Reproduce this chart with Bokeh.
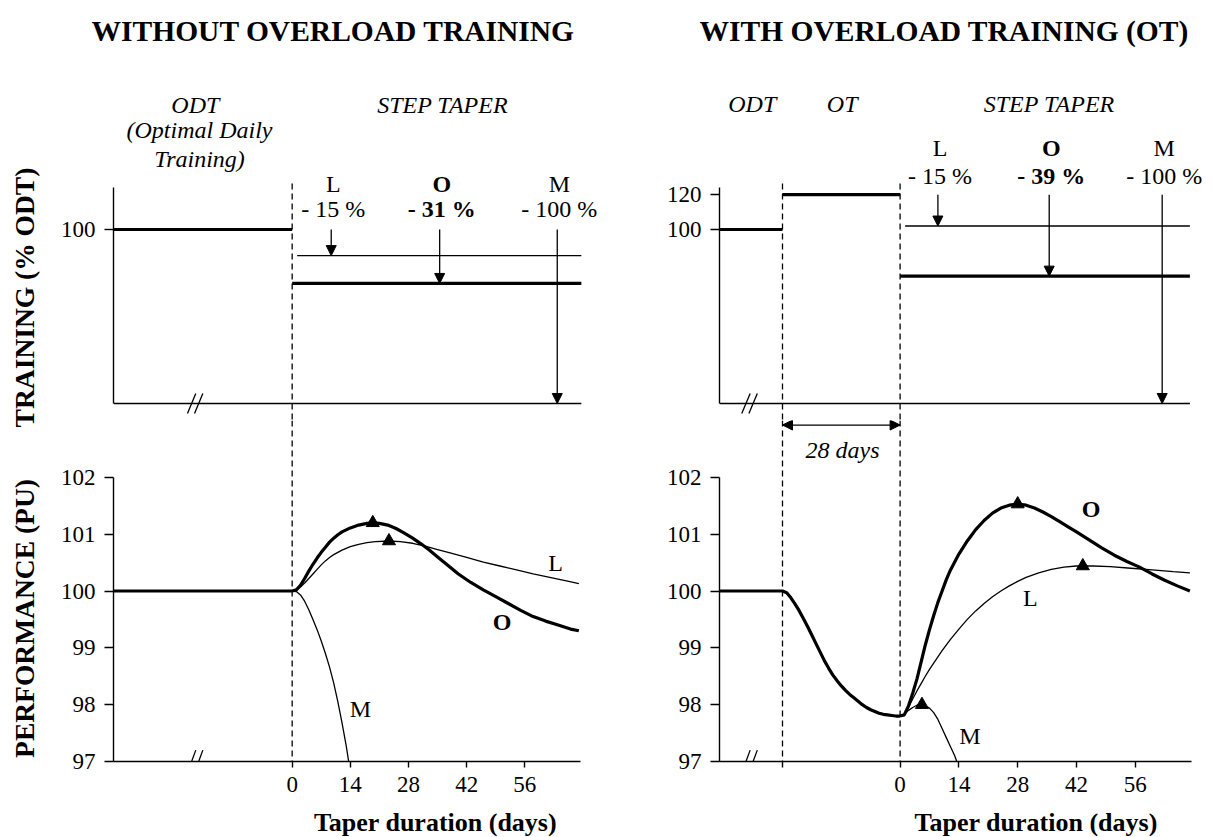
import math

from bokeh.plotting import figure
from bokeh.layouts import row, column
from bokeh.models import Range1d, Label, Arrow, NormalHead, FixedTicker
from bokeh.embed import file_html
from bokeh.resources import INLINE

SERIF = "Liberation Serif"

# ---------------- training load (% of optimal daily training, ODT) ----------------
odt_level = 100
ot_level = 120
ot_days = 28
taper_names = ["L", "O", "M"]
cut_without_ot = [15, 31, 100]          # step-taper reduction, % of pre-taper load
cut_with_ot = [15, 39, 100]
arrow_day_without_ot = [9.4, 35.5, 63.8]
arrow_day_with_ot = [9.0, 35.5, 62.4]
training_ticks_without_ot = [100]
training_ticks_with_ot = [100, 120]

# ---------------- performance (PU), taper without overload training ----------------
wo_O_day = [0, 1, 2, 3, 4, 5, 6, 7, 8, 9, 10, 11, 12, 14, 16, 18, 19.4, 21, 23, 25, 27, 29,
            31, 33, 35, 37, 40, 43, 46, 49, 52, 55, 58, 61, 64, 67, 69]
wo_O_perf = [100.0, 100.02, 100.1, 100.22, 100.35, 100.47, 100.58, 100.68, 100.77, 100.86,
             100.93, 100.99, 101.04, 101.11, 101.16, 101.19, 101.2, 101.19, 101.16, 101.1,
             101.02, 100.93, 100.83, 100.72, 100.6, 100.48, 100.3, 100.15, 100.02, 99.9,
             99.78, 99.66, 99.55, 99.47, 99.4, 99.33, 99.3]
wo_L_day = [0, 1, 2, 3, 4, 5, 6, 7, 8, 9, 10, 12, 14, 16, 18, 20, 23.3, 26, 29, 32, 35, 38,
            42, 46, 50, 54, 58, 62, 66, 69]
wo_L_perf = [100.0, 100.02, 100.07, 100.14, 100.22, 100.3, 100.38, 100.46, 100.53, 100.59,
             100.64, 100.72, 100.78, 100.82, 100.85, 100.87, 100.88, 100.87, 100.84, 100.79,
             100.73, 100.67, 100.59, 100.51, 100.44, 100.37, 100.3, 100.24, 100.18, 100.13]
wo_M_day = [0, 1, 2, 3, 4, 5, 6, 7, 8, 9, 10, 11, 12, 13, 13.6]
wo_M_perf = [100.0, 99.99, 99.93, 99.82, 99.67, 99.5, 99.32, 99.12, 98.9, 98.66, 98.38,
             98.05, 97.68, 97.28, 97.0]
wo_peak_day = [19.4, 23.3]
wo_peak_perf = [101.2, 100.88]

# ---------------- performance (PU), taper after overload training ----------------
ot_day = [-28, -27, -26, -25, -24, -23, -22, -21, -20, -19, -18, -17, -16, -15, -14, -13,
          -12, -11, -10, -9, -8, -7, -6, -5, -4, -3, -2, -1, 0]
ot_perf = [100.0, 99.97, 99.88, 99.77, 99.65, 99.51, 99.37, 99.22, 99.07, 98.92, 98.77,
           98.64, 98.52, 98.42, 98.33, 98.25, 98.18, 98.12, 98.06, 98.0, 97.95, 97.91, 97.88,
           97.85, 97.83, 97.82, 97.81, 97.8, 97.8]
w_O_day = [0, 1, 2, 3, 4, 5, 6, 7, 8, 9, 10, 11, 12, 14, 16, 18, 20, 22, 24, 26, 28, 30, 32,
           34, 36, 38, 40, 42, 45, 48, 51, 54, 57, 60, 63, 66, 69]
w_O_perf = [97.8, 97.82, 97.98, 98.2, 98.45, 98.75, 99.05, 99.32, 99.57, 99.8, 100.0, 100.2,
            100.37, 100.65, 100.88, 101.08, 101.24, 101.37, 101.46, 101.51, 101.53, 101.51,
            101.46, 101.39, 101.31, 101.22, 101.13, 101.04, 100.9, 100.76, 100.63, 100.52,
            100.42, 100.3, 100.19, 100.09, 100.0]
w_L_day = [0, 1, 2, 3, 4, 5, 6, 7, 8, 9, 10, 12, 14, 16, 18, 20, 22, 24, 26, 28, 30, 33, 36,
           39, 42, 46, 50, 55, 60, 65, 69]
w_L_perf = [97.8, 97.83, 97.95, 98.1, 98.24, 98.37, 98.5, 98.62, 98.73, 98.84, 98.95, 99.15,
            99.33, 99.5, 99.65, 99.78, 99.9, 100.0, 100.09, 100.17, 100.24, 100.32, 100.38,
            100.42, 100.44, 100.44, 100.43, 100.4, 100.37, 100.34, 100.32]
w_M_day = [0, 1, 2, 3, 4, 5.2, 6, 7, 8, 9, 10, 11, 12, 13, 13.5]
w_M_perf = [97.8, 97.83, 97.9, 97.95, 97.99, 98.0, 97.98, 97.94, 97.86, 97.74, 97.58, 97.42,
            97.26, 97.1, 97.0]
w_peak_day = [28, 43.5, 5.2]
w_peak_perf = [101.53, 100.44, 98.0]

perf_ticks = [97, 98, 99, 100, 101, 102]
taper_ticks_without_ot = [0, 14, 28, 42, 56]
taper_ticks_with_ot = [-28, 0, 14, 28, 42, 56]

# ---------------- geometry ----------------
AXIS_START = -43.0
TAPER_END_WO = 69.6
TAPER_END_W = 69.0
PX_PER_DAY_WO = 4.155
PX_PER_DAY_W = 4.2
FIG_W = 606
GUTTER_W = 45
HEAD_H = 60
TOP_H = 360
BOT_H = 383
FOOT_H = 34
BORDER_L = 113
BORDER_B = 42
THICK = 3.2
THIN = 1.3
AXIS_W = 1.4
DASH = "6 4"
TOP_Y = Range1d(-9.77, 197.13)
INNER_W = FIG_W - GUTTER_W
INNER_BORDER = BORDER_L - GUTTER_W


def base_fig(x_range, y_range, height, bottom_border, with_x_axis):
    p = figure(width=INNER_W, height=height, x_range=x_range, y_range=y_range,
               output_backend="svg", toolbar_location=None,
               x_axis_location="below" if with_x_axis else None,
               min_border_left=INNER_BORDER, min_border_right=0,
               min_border_top=0, min_border_bottom=bottom_border)
    p.grid.visible = False
    p.outline_line_color = None
    p.background_fill_color = "white"
    p.border_fill_color = "white"
    for ax in p.axis:
        ax.axis_line_color = "black"
        ax.axis_line_width = AXIS_W
        ax.major_tick_line_color = "black"
        ax.major_tick_line_width = AXIS_W
        ax.minor_tick_line_color = None
        ax.major_tick_in = 0
        ax.major_label_text_font = SERIF
        ax.major_label_text_font_size = "23px"
        ax.major_label_text_color = "black"
    p.yaxis.major_tick_out = 9
    p.yaxis.major_label_standoff = 9
    return p


def text_fig(width, height, x_range=None):
    # band that only carries text
    p = figure(width=width, height=height,
               x_range=x_range if x_range is not None else Range1d(0, 1),
               y_range=Range1d(0, 1),
               output_backend="svg", toolbar_location=None,
               x_axis_location=None, y_axis_location=None,
               min_border_left=0, min_border_right=0, min_border_top=0, min_border_bottom=0)
    p.grid.visible = False
    p.outline_line_color = None
    p.background_fill_color = "white"
    p.border_fill_color = "white"
    return p


def strip_fig(px_per_day, height):
    # text band sharing the day scale of the panels beneath it
    start = AXIS_START - BORDER_L / px_per_day
    return text_fig(FIG_W, height, Range1d(start, start + FIG_W / px_per_day))


def add_text(p, x, y, text, size="24px", style="normal", angle=0.0,
             align="center", baseline="middle"):
    p.add_layout(Label(x=x, y=y, text=text, text_font=SERIF, text_font_size=size,
                       text_font_style=style, text_color="black", angle=angle,
                       text_align=align, text_baseline=baseline))


def add_arrow(p, x0, y0, x1, y1, both=False):
    head = dict(size=10, fill_color="black", line_color="black", line_width=1)
    p.add_layout(Arrow(end=NormalHead(**head), start=NormalHead(**head) if both else None,
                       x_start=x0, y_start=y0, x_end=x1, y_end=y1,
                       line_color="black", line_width=THIN))


def add_break(p, x, y, dx, dy, gap):
    for off in (0, gap):
        p.segment(x0=x + off - dx, y0=y - dy, x1=x + off + dx, y1=y + dy,
                  line_color="black", line_width=THIN)


def training_panel(x_range, base_level, cuts, arrow_days, ticks,
                   taper_end, pre_steps, label_row, break_day):
    p = base_fig(x_range, TOP_Y, TOP_H, 0, False)
    p.yaxis.bounds = (0, 124)
    p.yaxis.ticker = FixedTicker(ticks=ticks)
    # horizontal baseline of the panel
    p.segment(x0=AXIS_START, y0=0, x1=taper_end, y1=0, line_color="black", line_width=AXIS_W)
    add_break(p, break_day, 0, 1.0, 5.7, 1.7)
    # pre-taper steps
    for (d0, d1, lvl) in pre_steps:
        p.line([d0, d1], [lvl, lvl], line_color="black", line_width=THICK)
    # taper steps
    levels = [base_level * (1 - c / 100) for c in cuts]
    p.line([1.2, taper_end], [levels[0], levels[0]], line_color="black", line_width=THIN)
    p.line([0, taper_end], [levels[1], levels[1]], line_color="black", line_width=THICK)
    for name, cut, d, lvl in zip(taper_names, cuts, arrow_days, levels):
        add_arrow(p, d, base_level, d, lvl)
        bold = "bold" if name == "O" else "normal"
        add_text(p, d + 0.5, label_row[0], name, style=bold)
        add_text(p, d + 0.5, label_row[1], f"- {cut} %", style=bold)
    return p


def performance_panel(x_range, ticks):
    p = base_fig(x_range, Range1d(97.0, 103.0), BOT_H, BORDER_B, True)
    p.yaxis.bounds = (97, 102)
    p.yaxis.ticker = FixedTicker(ticks=perf_ticks)
    p.xaxis.bounds = (AXIS_START, 69.4)
    p.xaxis.ticker = FixedTicker(ticks=ticks)
    p.xaxis.major_tick_out = 6
    p.xaxis.major_label_standoff = 9
    p.xaxis.major_label_overrides = {t: "" for t in ticks if t < 0}
    return p


# ================= WITHOUT OVERLOAD TRAINING =================
head_l = strip_fig(PX_PER_DAY_WO, HEAD_H)
add_text(head_l, 9.9, 0.5, "WITHOUT OVERLOAD TRAINING", size="29.5px", style="bold")

# vertical axis titles, shared by both left panels
gutter_l = text_fig(GUTTER_W, TOP_H + BOT_H)
add_text(gutter_l, 0.53, 0.681, "TRAINING (% ODT)", size="27.5px", style="bold", angle=math.pi / 2)
add_text(gutter_l, 0.53, 0.249, "PERFORMANCE (PU)", size="27.5px", style="bold", angle=math.pi / 2)

xr_left = Range1d(AXIS_START, AXIS_START + (FIG_W - BORDER_L) / PX_PER_DAY_WO)
tl = training_panel(xr_left, odt_level, cut_without_ot, arrow_day_without_ot,
                    training_ticks_without_ot, TAPER_END_WO,
                    [(AXIS_START, 0, odt_level)], (126.4, 111.5), -24.2)
tl.line([0, 0], [126.4, -9.77], line_color="black", line_width=THIN, line_dash=DASH)
add_text(tl, -23.3, 171.3, "ODT", style="italic")
add_text(tl, -22.3, 156.9, "(Optimal Daily", style="italic")
add_text(tl, -22.3, 140.8, "Training)", style="italic")
add_text(tl, 36.2, 171.3, "STEP TAPER", style="italic")

bl = performance_panel(xr_left, taper_ticks_without_ot)
bl.line([0, 0], [103.0, 97.0], line_color="black", line_width=THIN, line_dash=DASH)
bl.line([AXIS_START, 0], [100, 100], line_color="black", line_width=THICK)
bl.line(wo_M_day, wo_M_perf, line_color="black", line_width=THIN)
bl.line(wo_L_day, wo_L_perf, line_color="black", line_width=THIN)
bl.line(wo_O_day, wo_O_perf, line_color="black", line_width=THICK)
bl.scatter(wo_peak_day, wo_peak_perf, marker="triangle", size=13, color="black")
add_break(bl, -24.2, 97, 1.0, 0.2, 1.7)
add_text(bl, 63.4, 100.5, "L")
add_text(bl, 50.5, 99.46, "O", style="bold")
add_text(bl, 16.4, 97.93, "M")

foot_l = strip_fig(PX_PER_DAY_WO, FOOT_H)
add_text(foot_l, 34.5, 0.45, "Taper duration (days)", size="26px", style="bold")

# ================= WITH OVERLOAD TRAINING (OT) =================
head_r = strip_fig(PX_PER_DAY_W, HEAD_H)
add_text(head_r, 10.5, 0.5, "WITH OVERLOAD TRAINING (OT)", size="29.5px", style="bold")

gutter_r = text_fig(GUTTER_W, TOP_H + BOT_H)

xr_right = Range1d(AXIS_START, AXIS_START + (FIG_W - BORDER_L) / PX_PER_DAY_W)
tr = training_panel(xr_right, ot_level, cut_with_ot, arrow_day_with_ot,
                    training_ticks_with_ot, TAPER_END_W,
                    [(AXIS_START, -ot_days, odt_level), (-ot_days, 0, ot_level)],
                    (147.1, 131.0), -36.7)
for d in (-ot_days, 0):
    tr.line([d, d], [126.4, -9.77], line_color="black", line_width=THIN, line_dash=DASH)
add_text(tr, -35.2, 172.4, "ODT", style="italic")
add_text(tr, -13.8, 172.4, "OT", style="italic")
add_text(tr, 35.5, 172.4, "STEP TAPER", style="italic")

br = performance_panel(xr_right, taper_ticks_with_ot)
for d in (-ot_days, 0):
    br.line([d, d], [103.0, 97.0], line_color="black", line_width=THIN, line_dash=DASH)
br.line([AXIS_START] + ot_day, [100] + ot_perf, line_color="black", line_width=THICK)
br.line(w_M_day, w_M_perf, line_color="black", line_width=THIN)
br.line(w_L_day, w_L_perf, line_color="black", line_width=THIN)
br.line(w_O_day, w_O_perf, line_color="black", line_width=THICK)
br.scatter(w_peak_day, w_peak_perf, marker="triangle", size=13, color="black")
add_break(br, -36.7, 97, 1.0, 0.2, 1.7)
add_arrow(br, -ot_days, 102.92, 0, 102.92, both=True)
add_text(br, -13.7, 102.48, "28 days", style="italic")
add_text(br, 45.5, 101.44, "O", style="bold")
add_text(br, 31.0, 99.88, "L")
add_text(br, 16.6, 97.45, "M")

foot_r = strip_fig(PX_PER_DAY_W, FOOT_H)
add_text(foot_r, 32.4, 0.45, "Taper duration (days)", size="26px", style="bold")

left_side = column(head_l, row(gutter_l, column(tl, bl)), foot_l)
right_side = column(head_r, row(gutter_r, column(tr, br)), foot_r)
layout = row(left_side, right_side)

with open("out.html", "w") as f:
    f.write(file_html(layout, INLINE))
